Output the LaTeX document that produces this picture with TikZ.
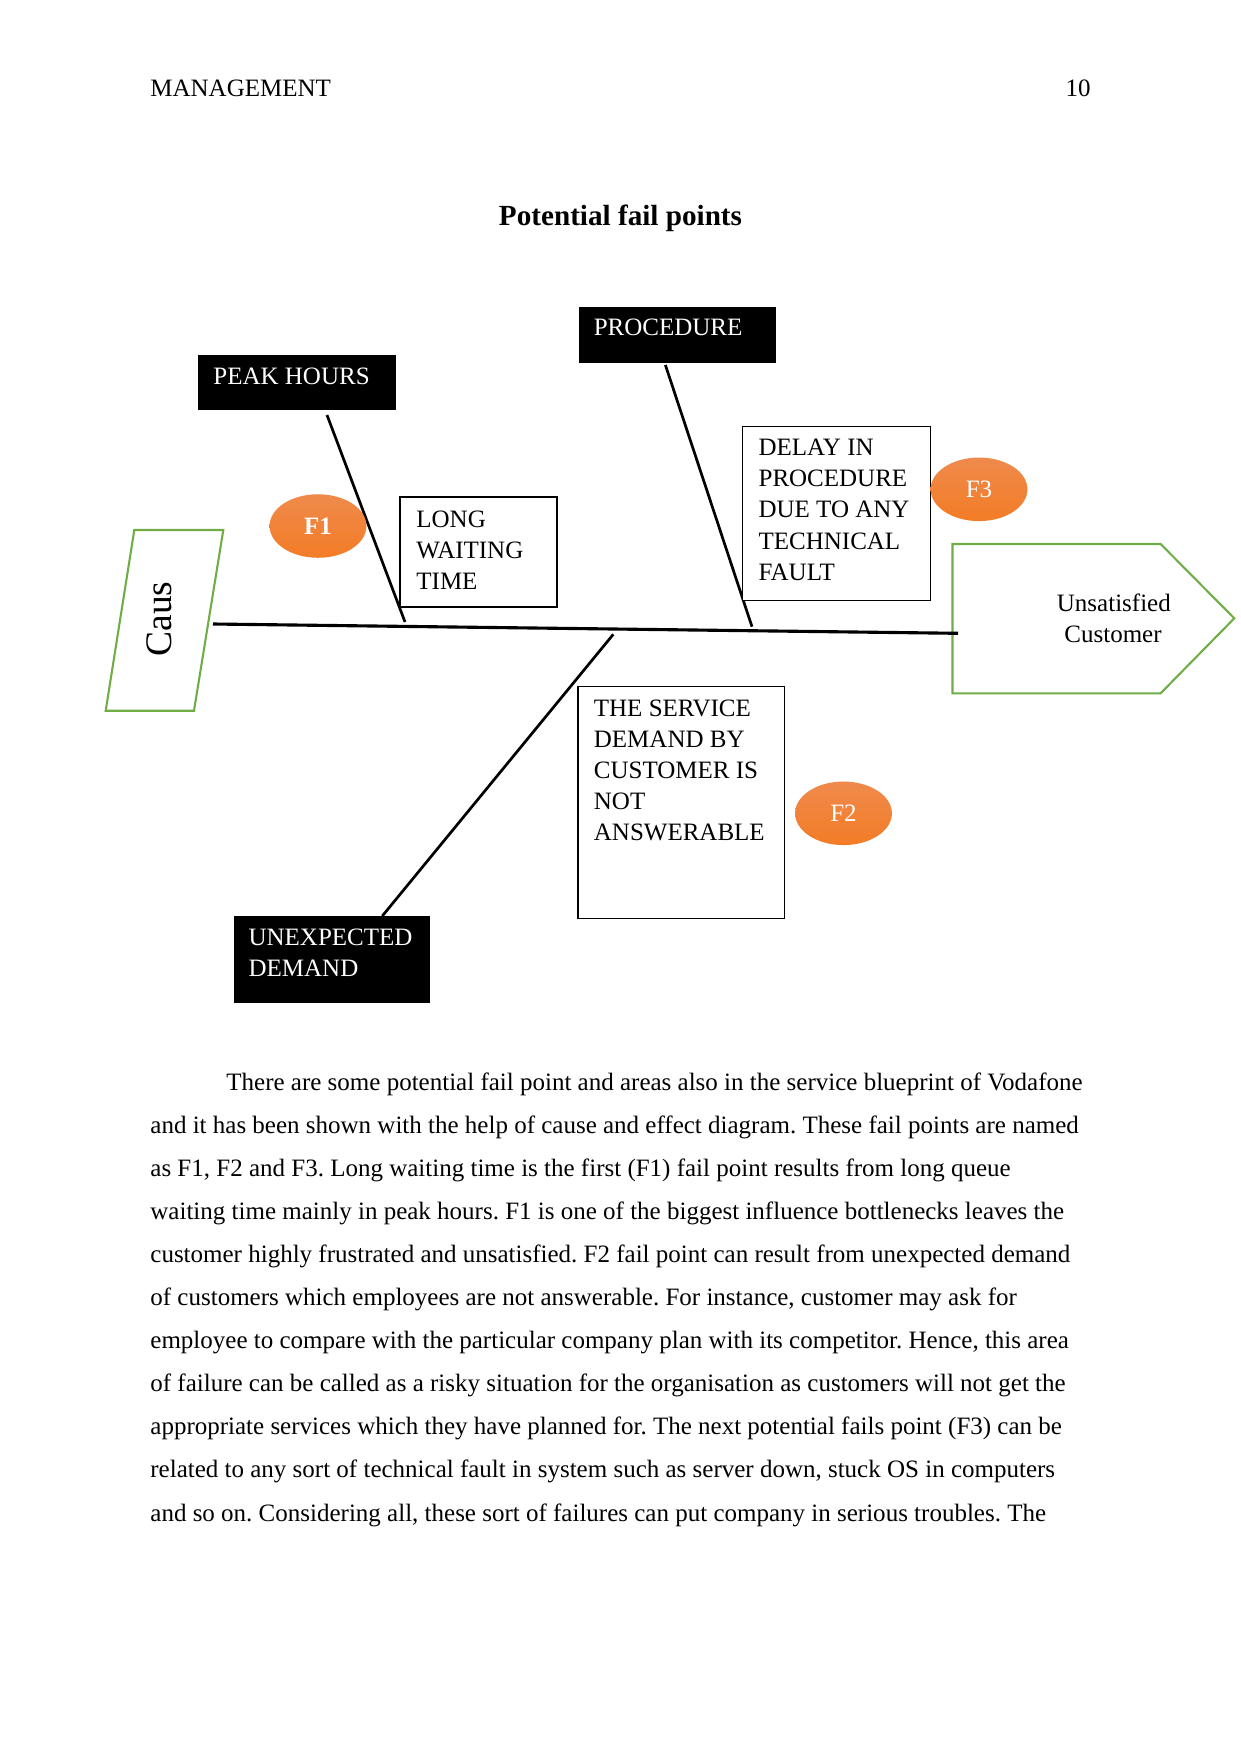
\documentclass[tikz,border=0pt]{standalone}
\usepackage{fontspec}
\setmainfont{Liberation Serif}
\usetikzlibrary{fit,shapes.geometric}
\definecolor{fgreen}{RGB}{112,173,71}
\definecolor{ftop}{RGB}{239,138,76}
\definecolor{fbot}{RGB}{243,124,38}
\frenchspacing
\begin{document}
\begin{tikzpicture}[x=0.48pt,y=-0.48pt,
  every node/.style={font=\fontsize{12}{14}\selectfont, inner sep=0pt},
  blackbox/.style={draw=black, fill=black, inner sep=0pt},
  whitebox/.style={draw=black, line width=0.6pt, fill=white, inner sep=0pt},
  wtext/.style={text=white, anchor=base west},
  btext/.style={text=black, anchor=base west},
  bone/.style={line width=1.3pt, black},
  spine/.style={line width=1.5pt, black},
  gline/.style={draw=fgreen, line width=1pt},
  fpoint/.style={ellipse, top color=ftop, bottom color=fbot, draw=none,
    minimum width=46.5pt, minimum height=30.5pt, text=white},
  bodyline/.style={anchor=base west}
]
\useasboundingbox (0,0) rectangle (1241,1754);
\fill[white] (0,0) rectangle (1241,1754);

% header and title
\node[anchor=base west] (hdr) at (150,96.7) {MANAGEMENT};
\node[anchor=base east] (pg) at (1091,96.7) {10};
\node[anchor=base, font=\fontsize{14}{16}\selectfont\bfseries] (title) at (620.5,225) {Potential fail points};

% cause parallelogram
\draw[gline] (134.3,530) -- (223.3,530) -- (194,710.7) -- (105.7,710.7) -- cycle;
\node[rotate=90, font=\fontsize{18}{20}\selectfont] (caus) at (159,619) {Caus};

% effect pentagon
\draw[gline] (952.5,544) -- (1160.6,544) -- (1234.3,618.3) -- (1160.6,693.3) -- (952.5,693.3) -- cycle;
\node[btext] (uns1) at (1056.5,611.7) {Unsatisfied};
\node[btext] (uns2) at (1064,642.3) {Customer};

% spine
\coordinate (spL) at (213,624);
\coordinate (spR) at (958,633.3);
\draw[spine] (spL) -- (spR);

% black category boxes
\node[blackbox, fit={(198,355) (395,409)}] (peak) {};
\node[wtext] (peakt) at (213,384) {PEAK HOURS};
\node[blackbox, fit={(579,307) (775.5,362)}] (proc) {};
\node[wtext] (proct) at (593.4,335.7) {PROCEDURE};
\node[blackbox, fit={(234,916.7) (429.6,1002.7)}] (unexp) {};
\node[wtext] (unexpt1) at (248.2,945) {UNEXPECTED};
\node[wtext] (unexpt2) at (248.2,976) {DEMAND};

% bones
\coordinate (pkA) at (327,415);
\coordinate (pkB) at (405,622);
\draw[bone] (pkA) -- (pkB);
\coordinate (prA) at (665.4,365);
\coordinate (prB) at (752,626.7);
\draw[bone] (prA) -- (prB);
\coordinate (unA) at (613.3,634.3);
\coordinate (unB) at (382.3,916);
\draw[bone] (unA) -- (unB);

% white cause boxes
\node[whitebox, fit={(400,497) (557,607)}] (lwt) {};
\node[btext] at (416,527.7) {LONG};
\node[btext] at (416,558.3) {WAITING};
\node[btext] at (416,589) {TIME};

\node[whitebox, fit={(742.6,426.3) (930.3,600.3)}] (delay) {};
\node[btext] at (758.2,455.7) {DELAY IN};
\node[btext] at (758.2,486.7) {PROCEDURE};
\node[btext] at (758.2,517.7) {DUE TO ANY};
\node[btext] at (758.2,549.3) {TECHNICAL};
\node[btext] at (758.2,580.7) {FAULT};

\node[whitebox, fit={(577.9,686.3) (784.5,918.3)}] (serv) {};
\node[btext] at (593.5,716.7) {THE SERVICE};
\node[btext] at (593.5,747.7) {DEMAND BY};
\node[btext] at (593.5,778.3) {CUSTOMER IS};
\node[btext] at (593.5,809.3) {NOT};
\node[btext] at (593.5,840.7) {ANSWERABLE};

% fail points
\node[fpoint, font=\fontsize{12}{14}\selectfont\bfseries] (f1) at (318,526) {F1};
\node[fpoint] (f3) at (979,489.3) {F3};
\node[fpoint] (f2) at (843.5,813.3) {F2};

% body text
\node[bodyline] (b1) at (226,1090) {There are some potential fail point and areas also in the service blueprint of Vodafone};
\node[bodyline] (b2) at (150,1133.1) {and it has been shown with the help of cause and effect diagram. These fail points are named};
\node[bodyline] (b3) at (150,1176.2) {as F1, F2 and F3. Long waiting time is the first (F1) fail point results from long queue};
\node[bodyline] (b4) at (150,1219.3) {waiting time mainly in peak hours. F1 is one of the biggest influence bottlenecks leaves the};
\node[bodyline] (b5) at (150,1262.4) {customer highly frustrated and unsatisfied. F2 fail point can result from unexpected demand};
\node[bodyline] (b6) at (150,1305.5) {of customers which employees are not answerable. For instance, customer may ask for};
\node[bodyline] (b7) at (150,1348.6) {employee to compare with the particular company plan with its competitor. Hence, this area};
\node[bodyline] (b8) at (150,1391.7) {of failure can be called as a risky situation for the organisation as customers will not get the};
\node[bodyline] (b9) at (150,1434.8) {appropriate services which they have planned for. The next potential fails point (F3) can be};
\node[bodyline] (b10) at (150,1477.9) {related to any sort of technical fault in system such as server down, stuck OS in computers};
\node[bodyline] (b11) at (150,1521) {and so on. Considering all, these sort of failures can put company in serious troubles. The};
\end{tikzpicture}
\end{document}
